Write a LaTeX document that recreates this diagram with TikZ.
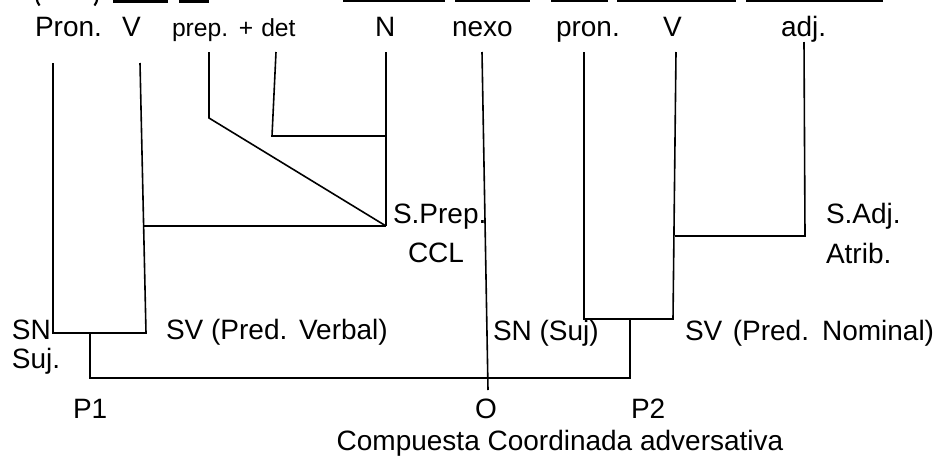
\documentclass[tikz,border=0pt]{standalone}
\usepackage{fontspec}
\setmainfont{Liberation Sans}
\begin{document}
\begin{tikzpicture}[x=0.75pt,y=-0.75pt,
  lbl/.style={anchor=base west,inner sep=0pt,outer sep=0pt,font=\fontsize{21pt}{25pt}\selectfont},
  sml/.style={anchor=base west,inner sep=0pt,outer sep=0pt,font=\fontsize{18.5pt}{21pt}\selectfont},
  br/.style={line width=1.2pt,line join=miter},
  bar/.style={fill=black}]
\useasboundingbox (0,0) rectangle (938,461);
% cut-off line above (underlines and bottoms of parentheses)
\draw[line width=1.6pt] (36.5,-2) .. controls (37,1.5) and (38,3.5) .. (39.5,5.5);
\draw[line width=1.6pt] (97.5,-2) .. controls (97,1.5) and (96,3.5) .. (94.5,5.5);
\fill[bar] (113,-1) rectangle (168,2.5);
\fill[bar] (179,-1) rectangle (209,2.5);
\fill[bar] (343,-1) rectangle (445,2);
\fill[bar] (455,-1) rectangle (530,2);
\fill[bar] (551,-1) rectangle (608,2);
\fill[bar] (617,-1) rectangle (736,2);
\fill[bar] (746,-1) rectangle (883,2);
% words
\node[lbl] (pron1) at (35,36) {Pron.};
\node[lbl] (v1) at (122,36) {V};
\node[sml] (prep) at (172,36) {prep.\hspace{8pt}+\hspace{6pt}det};
\node[lbl] (n1) at (375,36) {N};
\node[lbl] (nexo) at (452,36) {nexo};
\node[lbl] (pron2) at (556,36) {pron.};
\node[lbl] (v2) at (663,36) {V};
\node[lbl] (adj) at (781,36) {adj.};
% phrase labels
\node[lbl] (sprep) at (393,223) {S.Prep.};
\node[lbl] (ccl) at (408,262) {CCL};
\node[lbl] (sadj) at (826,223) {S.Adj.};
\node[lbl] (atrib) at (826,263) {Atrib.};
\node[lbl] (sn1) at (12,339) {SN};
\node[lbl] (suj) at (12,368) {Suj.};
\node[lbl] (sv1) at (166,339) {SV (Pred.\hspace{1pt} Verbal)};
\node[lbl] (sn2) at (493,340) {SN (Suj)};
\node[lbl] (sv2) at (685,340) {SV\hspace{2pt} (Pred.\hspace{2pt} Nominal)};
\node[lbl] (p1) at (73,418) {P1};
\node[lbl] (o) at (475,418) {O};
\node[lbl] (p2) at (631,418) {P2};
\node[lbl,anchor=base] (comp) at (560,450) {Compuesta Coordinada adversativa};
% coordinates
\coordinate (a1) at (53,63);   \coordinate (a2) at (53,333);
\coordinate (a3) at (146,333); \coordinate (a4) at (140,63);
\coordinate (s1) at (143,226); \coordinate (s2) at (386,226);
\coordinate (n1t) at (386,52);
\coordinate (pp1) at (209,52); \coordinate (pp2) at (209,118);
\coordinate (d1) at (276,52);  \coordinate (d2) at (272,136); \coordinate (d3) at (386,136);
\coordinate (j1) at (90,333);  \coordinate (j2) at (90,378);
\coordinate (j3) at (630,378); \coordinate (j4) at (630,319);
\coordinate (x1) at (482,52);  \coordinate (x2) at (488,390);
\coordinate (b1) at (584,52);  \coordinate (b2) at (584,319);
\coordinate (b3) at (673,319); \coordinate (b4) at (676,52);
\coordinate (c1) at (675,236); \coordinate (c2) at (805,236); \coordinate (c3) at (804,42);
% branches
\draw[br] (a1) -- (a2) -- (a3) -- (a4);
\draw[br] (s1) -- (s2);
\draw[br] (n1t) -- (s2);
\draw[br] (pp1) -- (pp2) -- (s2);
\draw[br] (d1) -- (d2) -- (d3);
\draw[br] (j1) -- (j2) -- (j3) -- (j4);
\draw[br] (x1) -- (x2);
\draw[br] (b1) -- (b2) -- (b3) -- (b4);
\draw[br] (c1) -- (c2) -- (c3);
\end{tikzpicture}
\end{document}
